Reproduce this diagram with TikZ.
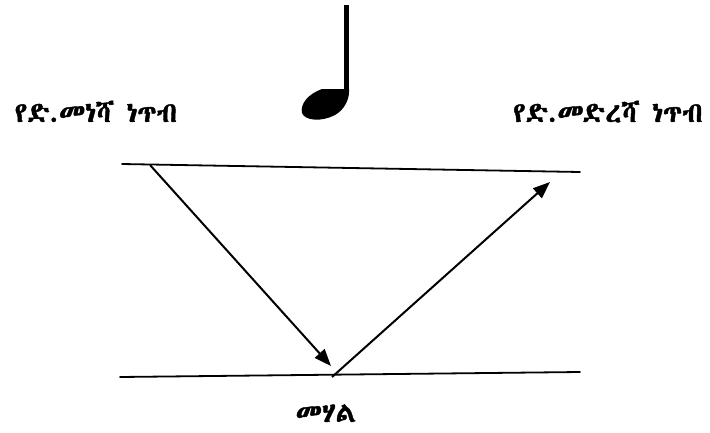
\documentclass[tikz,border=0pt]{standalone}
\usepackage{fontspec}
\usetikzlibrary{arrows.meta}
\IfFontExistsTF{Abyssinica SIL}{\newfontfamily\ethfont[FakeBold=1.5]{Abyssinica SIL}}{%
 \IfFontExistsTF{FreeSerif}{\newfontfamily\ethfont[FakeBold=1.5]{FreeSerif}}{%
  \IfFontExistsTF{FreeSans}{\newfontfamily\ethfont[FakeBold=1.5]{FreeSans}}{\newfontfamily\ethfont{DejaVu Sans}}}}
\begin{document}
\begin{tikzpicture}[x=1pt,y=-1pt,
  lbl/.style={font=\ethfont\fontsize{28}{32}\selectfont, inner sep=0pt, anchor=base, text depth=0pt},
  edge/.style={line width=1.8pt, line cap=round},
  ray/.style={line width=2pt, -{Triangle[length=17pt,width=13pt]}, shorten >=0pt}]
\useasboundingbox (0,0) rectangle (710,432);
% surfaces
\coordinate (t1) at (122,164);
\coordinate (t2) at (580,172);
\coordinate (b1) at (120,377);
\coordinate (b2) at (580,372);
\draw[edge] (t1) -- (t2);
\draw[edge] (b1) -- (b2);
% rays
\coordinate (s) at (150,165);
\coordinate (m) at (331,366);
\coordinate (m2) at (332,377);
\coordinate (e) at (550,182);
\draw[ray] (s) -- (m);
\draw[ray] (m2) -- (e);
% labels
\node[lbl] (start) at (96,122) {የድ.መነሻ ነጥብ};
\node[lbl] (end) at (608,122) {የድ.መድረሻ ነጥብ};
\node[lbl] (mid) at (326,422) {መሃል};
% note
\fill (344,5) rectangle (349,93);
\fill (349,89) -- (322,89) .. controls (308,94) and (300,104) .. (302,113)
      .. controls (305,121) and (322,122) .. (335,115)
      .. controls (344,110) and (349,100) .. (349,92) -- cycle;
\end{tikzpicture}
\end{document}
